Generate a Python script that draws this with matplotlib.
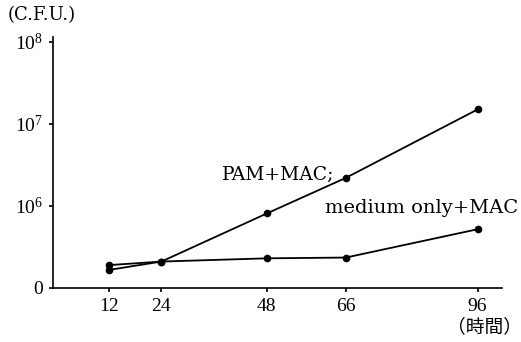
import matplotlib.pyplot as plt
import matplotlib.ticker as mticker

plt.rcParams['font.family'] = ['Liberation Serif', 'DejaVu Serif']
plt.rcParams['mathtext.fontset'] = 'custom'
plt.rcParams['mathtext.rm'] = 'Liberation Serif'
plt.rcParams['mathtext.it'] = 'Liberation Serif:italic'

# sampling times (hours)
hours = [12, 24, 48, 66, 96]
# colony forming units
pam_mac = [1.66e5, 2.1e5, 8.1e5, 2.2e6, 1.5e7]
medium_mac = [1.9e5, 2.1e5, 2.3e5, 2.35e5, 5.2e5]

y_ticks = [1e5, 1e6, 1e7, 1e8]
y_labels = ['0', '$10^6$', '$10^7$', '$10^8$']

fig = plt.figure(figsize=(5.21, 3.42), dpi=100)
ax = fig.add_axes([0.1017, 0.1579, 0.862, 0.734])

ax.plot(hours, pam_mac, color='black', lw=1.3, marker='o', ms=4.5)
ax.plot(hours, medium_mac, color='black', lw=1.3, marker='o', ms=4.5)

ax.set_yscale('log')
ax.set_xlim(-0.7, 101.6)
ax.set_ylim(1e5, 10**8.06)
ax.set_yticks(y_ticks)
ax.set_yticklabels(y_labels)
ax.yaxis.set_minor_locator(mticker.NullLocator())
ax.set_xticks(hours)
ax.set_xticklabels([str(h) for h in hours])

for side in ['top', 'right']:
    ax.spines[side].set_visible(False)
for side in ['left', 'bottom']:
    ax.spines[side].set_linewidth(1.2)
ax.tick_params(direction='out', length=3, width=1.2, labelsize=14, pad=4)

serif_wide = ['DejaVu Serif']
ax.text(37.8, 2.4e6, 'PAM+MAC;', fontsize=13.5, va='center', ha='left',
        family=serif_wide)
ax.text(61.3, 9.5e5, 'medium only+MAC', fontsize=14, va='center', ha='left',
        family=serif_wide, clip_on=False)

fig.text(8 / 521, 1 - 15 / 342, '(C.F.U.)', fontsize=13, va='center', ha='left',
         family=serif_wide)
fig.text(485 / 521, 1 - 327 / 342, '（時間）', fontsize=13.5, va='center', ha='center',
         family=['Noto Sans CJK JP', 'DejaVu Sans'])

fig.savefig('out.png', dpi=100)
